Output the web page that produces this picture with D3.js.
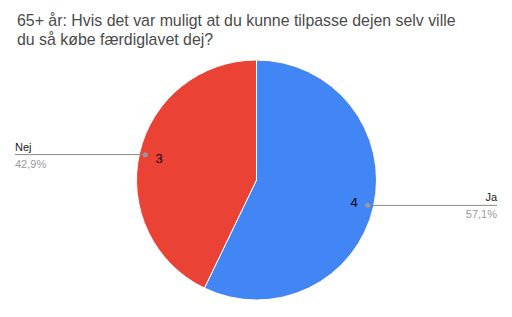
<!DOCTYPE html>
<html>
<head>
<meta charset="utf-8">
<script src="https://cdn.jsdelivr.net/npm/d3@7.9.0/dist/d3.min.js"></script>
<style>
  body { margin: 0; background: #fff; }
  text { font-family: Arial, "Liberation Sans", sans-serif; }
</style>
</head>
<body>
<svg id="chart"></svg>
<script>
// Data
const titleLines = [
  '65+ år: Hvis det var muligt at du kunne tilpasse dejen selv ville',
  'du så købe færdiglavet dej?',
];
const categories = ['Ja', 'Nej'];
const counts = [4, 3];
const percentLabels = ['57,1%', '42,9%'];
const colors = ['#4285f4', '#ea4335'];

const width = 512;
const height = 317;
const cx = 256.5;
const cy = 180;
const radius = 120;

const svg = d3.select('#chart').attr('width', width).attr('height', height);

// Title
svg
  .append('text')
  .attr('x', 17)
  .attr('y', 26)
  .attr('font-size', 15.9)
  .attr('fill', '#4a4a4a')
  .selectAll('tspan')
  .data(titleLines)
  .join('tspan')
  .attr('x', 17)
  .attr('dy', (d, i) => (i === 0 ? 0 : 19))
  .text((d) => d);

const rows = categories.map((c, i) => ({ name: c, value: counts[i], pct: percentLabels[i], color: colors[i] }));

const pie = d3.pie().sort(null).value((d) => d.value);
const arcs = pie(rows);
const arc = d3.arc().innerRadius(0).outerRadius(radius);

const g = svg.append('g').attr('transform', `translate(${cx}, ${cy})`);

g.selectAll('path')
  .data(arcs)
  .join('path')
  .attr('d', arc)
  .attr('fill', (d) => d.data.color)
  .attr('stroke', '#fff')
  .attr('stroke-width', 1);

// point on circle at angle a (clockwise from top), radius r
const pt = (a, r) => [r * Math.sin(a), -r * Math.cos(a)];

arcs.forEach((d) => {
  const mid = (d.startAngle + d.endAngle) / 2;
  const [dx, dy] = pt(mid, radius - 6);
  const right = dx > 0;
  const lineEnd = right ? width - 15 - cx : 15 - cx;

  g.append('line')
    .attr('x1', dx)
    .attr('y1', dy)
    .attr('x2', lineEnd)
    .attr('y2', dy)
    .attr('stroke', '#888')
    .attr('stroke-width', 1);

  g.append('circle').attr('cx', dx).attr('cy', dy).attr('r', 2.5).attr('fill', '#999');

  const [vx, vy] = pt(mid, radius - 20);
  g.append('text')
    .attr('x', vx)
    .attr('y', vy + 5)
    .attr('text-anchor', 'middle')
    .attr('font-size', 13)
    .attr('fill', '#000')
    .text(d.data.value);

  g.append('text')
    .attr('x', lineEnd)
    .attr('y', dy - 4)
    .attr('text-anchor', right ? 'end' : 'start')
    .attr('font-size', 11)
    .attr('fill', '#222')
    .text(d.data.name);

  g.append('text')
    .attr('x', lineEnd)
    .attr('y', dy + 13)
    .attr('text-anchor', right ? 'end' : 'start')
    .attr('font-size', 11)
    .attr('fill', '#999')
    .text(d.data.pct);
});
</script>
</body>
</html>
